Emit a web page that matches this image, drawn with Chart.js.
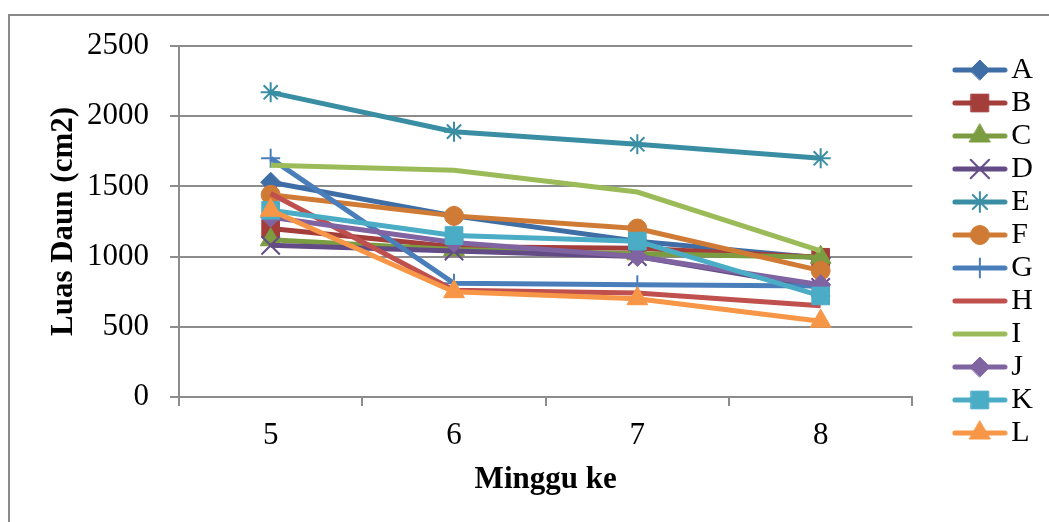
<!DOCTYPE html>
<html>
<head>
<meta charset="utf-8">
<script src="https://cdn.jsdelivr.net/npm/chart.js@4.4.0/dist/chart.umd.min.js"></script>
<style>
  html, body { margin: 0; padding: 0; background: #fff; }
  #wrap { position: relative; width: 1049px; height: 522px; overflow: hidden; }
  #frame { position: absolute; left: 8px; top: 14px; width: 1100px; height: 600px;
           border: 2px solid #8a8a8a; box-sizing: border-box; }
  canvas { position: absolute; left: 0; top: 0; }
</style>
</head>
<body>
<div id="wrap">
  <div id="frame"></div>
  <canvas id="c" width="1049" height="522"></canvas>
</div>
<script>
// Week labels on the x axis
const weeks = ['5', '6', '7', '8'];

// Leaf area (cm2) per treatment, weeks 5-8
const seriesA = [1530, 1290, 1110, 990];
const seriesB = [1200, 1070, 1060, 995];
const seriesC = [1120, 1050, 1020, 995];
const seriesD = [1080, 1040, 1000, 780];
const seriesE = [2170, 1890, 1800, 1700];
const seriesF = [1440, 1290, 1200, 900];
const seriesG = [1700, 810, 800, 790];
const seriesH = [1450, 760, 740, 650];
const seriesI = [1650, 1615, 1460, 1040];
const seriesJ = [1280, 1100, 1000, 800];
const seriesK = [1330, 1150, 1110, 720];
const seriesL = [1330, 750, 700, 540];

// Y axis ticks
const yTicks = [0, 500, 1000, 1500, 2000, 2500];

const names = ['A','B','C','D','E','F','G','H','I','J','K','L'];
const values = [seriesA, seriesB, seriesC, seriesD, seriesE, seriesF,
                seriesG, seriesH, seriesI, seriesJ, seriesK, seriesL];
const colors = ['#3F6EA7', '#A33E3B', '#7C9C42', '#634B85', '#3A8EA3', '#D07B35',
                '#4A7EBB', '#C0504D', '#9BBB59', '#8064A2', '#4BACC6', '#F79646'];
const markers = [
  { style: 'rectRot',  r: 10 },
  { style: 'rect',     r: 12.5 },
  { style: 'triangle', r: 12 },
  { style: 'crossRot', r: 13 },
  { style: 'star',     r: 10 },
  { style: 'circle',   r: 9.5 },
  { style: 'cross',    r: 9.5 },
  { style: false,      r: 0 },
  { style: false,      r: 0 },
  { style: 'rectRot',  r: 10 },
  { style: 'rect',     r: 12.5 },
  { style: 'triangle', r: 12 }
];

const serif = '"Liberation Serif", "Times New Roman", serif';
const isStroke = (s) => s === 'star' || s === 'cross' || s === 'crossRot';

// Legend swatch: a short line with the series marker in its middle
function swatch(i) {
  const cv = document.createElement('canvas');
  cv.width = 104; cv.height = 30;
  const ctx = cv.getContext('2d');
  ctx.strokeStyle = colors[i];
  ctx.lineWidth = 5;
  ctx.lineCap = 'round';
  ctx.beginPath();
  ctx.moveTo(51, 15);
  ctx.lineTo(101, 15);
  ctx.stroke();
  const m = markers[i];
  if (m.style) {
    ctx.fillStyle = colors[i];
    ctx.lineWidth = isStroke(m.style) ? 2 : 1;
    Chart.helpers.drawPoint(ctx, { pointStyle: m.style, radius: m.r, rotation: 0, borderWidth: ctx.lineWidth }, 76, 15);
  }
  return cv;
}

const datasets = names.map((n, i) => ({
  label: n,
  data: values[i],
  borderColor: colors[i],
  backgroundColor: colors[i],
  borderWidth: 5,
  pointStyle: markers[i].style || 'circle',
  pointRadius: markers[i].r,
  pointHoverRadius: markers[i].r,
  pointBorderWidth: isStroke(markers[i].style) ? 2 : 1,
  pointBorderColor: colors[i],
  pointBackgroundColor: colors[i],
  tension: 0,
  order: names.length - i
}));

const swatches = names.map((n, i) => swatch(i));

new Chart(document.getElementById('c'), {
  type: 'line',
  data: { labels: weeks, datasets: datasets },
  options: {
    responsive: false,
    animation: false,
    layout: { padding: { left: 20, right: 6, top: 46, bottom: 20 } },
    plugins: {
      tooltip: { enabled: false },
      legend: {
        position: 'right',
        align: 'start',
        title: { display: true, text: '', font: { size: 5 }, padding: 0 },
        labels: {
          usePointStyle: true,
          pointStyleWidth: 81,
          boxHeight: 30,
          padding: 3,
          color: '#000',
          font: { family: serif, size: 30 },
          generateLabels: (chart) => chart.data.datasets.map((ds, i) => ({
            text: ds.label,
            pointStyle: swatches[i],
            fillStyle: ds.borderColor,
            strokeStyle: ds.borderColor,
            lineWidth: 0,
            hidden: false,
            datasetIndex: i,
            fontColor: '#000'
          }))
        }
      }
    },
    scales: {
      x: {
        offset: true,
        afterFit: (s) => { s.height = 105; },
        grid: { offset: true, drawOnChartArea: false, drawTicks: true, tickLength: 9,
                color: '#8c8c8c', lineWidth: 2 },
        border: { display: true, color: '#8c8c8c', width: 2 },
        ticks: { color: '#000', padding: 11, font: { family: serif, size: 31 } },
        title: { display: true, text: 'Minggu ke', color: '#000',
                 font: { family: serif, size: 31, weight: 'bold' }, padding: { top: 0, bottom: 3 } }
      },
      y: {
        min: 0, max: 2500,
        afterFit: (s) => { s.width = 159; },
        afterBuildTicks: (s) => { s.ticks = yTicks.map(v => ({ value: v })); },
        grid: { color: '#8c8c8c', lineWidth: 2, tickLength: 9, drawTicks: true },
        border: { display: true, color: '#8c8c8c', width: 2 },
        ticks: { color: '#000', padding: 21, font: { family: serif, size: 31 },
                 callback: (v) => String(v) },
        title: { display: true, text: 'Luas Daun (cm2)', color: '#000',
                 font: { family: serif, size: 31, weight: 'bold' }, padding: { top: 25, bottom: 0 } }
      }
    }
  }
});
</script>
</body>
</html>
